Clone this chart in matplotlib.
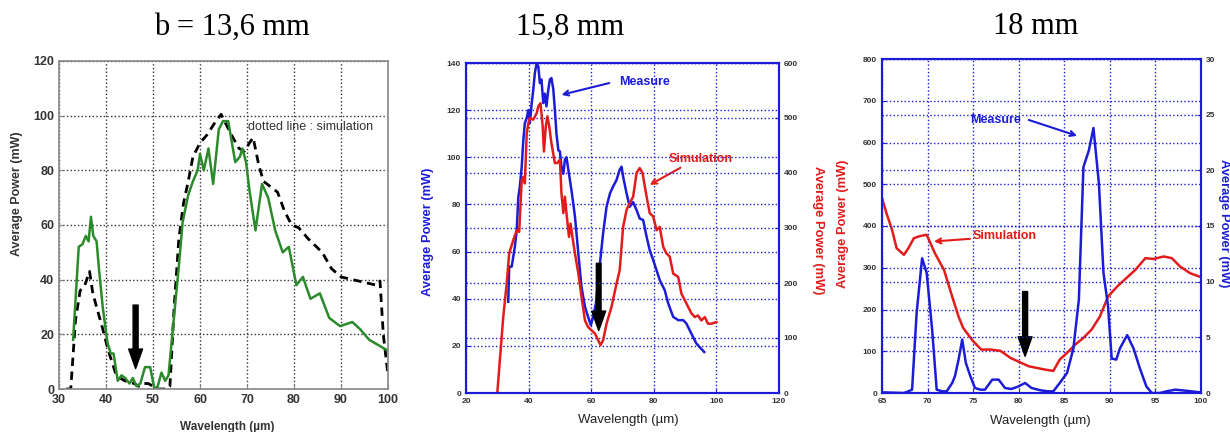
import matplotlib
matplotlib.use("Agg")
import matplotlib.pyplot as plt

plt.rcParams['font.family'] = ['Liberation Sans', 'DejaVu Sans']

# ---- panel 1 : b = 13,6 mm ----
p1_meas_x = [33.0, 34.2, 35.0, 35.7, 36.3, 36.8, 37.3, 38.0, 38.5, 39.3, 40.3, 41.0, 41.6,
             42.5, 43.3, 44.1, 45.0, 45.7, 46.5, 47.3, 48.3, 49.4, 50.3, 51.0, 51.8, 52.6,
             53.3, 54.5, 55.5, 56.3, 57.5, 58.5, 59.5, 60.0, 60.8, 61.8, 62.8, 64.0, 64.9,
             66.0, 67.5, 68.5, 69.0, 69.8, 70.5, 71.8, 73.2, 74.5, 76.0, 77.6, 78.9, 80.5,
             81.9, 83.5, 85.5, 87.5, 89.8, 92.4, 94.0, 96.0, 98.0, 100.0]
p1_meas_y = [18, 52, 53, 56, 54, 63, 56, 54, 44, 30, 17, 13, 13,
             3, 5, 4, 2, 4, 1, 2, 8, 8, 0, 1, 6, 3,
             5, 27, 45, 61, 71, 76, 80, 86, 80, 88, 75, 95, 98,
             98, 83, 85, 88, 83, 73, 58, 75, 70, 58, 50, 52, 38,
             41, 33, 35, 26, 23, 24.5, 22, 18, 16, 14]
p1_sim_x = [31.5, 32.5, 33.5, 34.5, 35.5, 36.5, 37.2, 38.0, 39.3, 40.5, 42.0, 43.0, 44.0,
            46.0, 47.0, 48.0, 49.0, 50.0, 51.0, 52.0, 53.0, 53.6, 54.5, 55.5, 56.5, 57.5,
            58.5, 60.0, 61.5, 63.0, 64.5, 65.5, 67.0, 68.3, 69.5, 70.5, 71.3, 72.5, 73.5,
            75.0, 76.5, 78.0, 79.5, 81.0, 83.0, 86.0, 88.0, 90.0, 92.5, 95.0, 97.5, 98.3,
            99.0, 100.0]
p1_sim_y = [0, 0, 25, 36, 38, 43, 35, 30, 22, 14, 6, 4, 3,
            2, 1, 2, 2, 1, 0, 0, 0, 1, 30, 55, 68, 76,
            85, 90, 93, 97, 100.5, 97, 92, 88, 87, 90, 92, 82, 76,
            74, 72, 65, 60, 59, 55, 50, 44, 41, 40, 39, 38, 39.5,
            20, 5]

# ---- panel 2 : 15,8 mm ----
p2_meas_x = [33.5, 33.8, 34.6, 35.1, 35.6, 36.2, 36.7, 37.2, 37.8, 38.3, 38.8, 39.4, 39.9,
             40.4, 41.0, 41.5, 42.0, 42.6, 43.1, 43.6, 44.1, 44.7, 45.2, 45.7, 46.3, 46.8,
             47.3, 47.9, 48.4, 48.9, 49.5, 50.0, 50.5, 51.1, 51.6, 52.1, 52.7, 53.7, 54.8,
             55.9, 56.9, 58.0, 59.0, 59.9, 60.6, 61.5, 62.2, 62.8, 63.8, 64.9, 66.0, 67.0,
             68.1, 69.1, 69.7, 70.2, 71.3, 72.3, 73.4, 74.5, 75.5, 76.6, 77.7, 78.7, 79.8,
             80.9, 81.9, 83.5, 84.6, 86.2, 87.8, 89.4, 90.4, 92.0, 93.6, 96.1]
p2_meas_y = [38.7, 53.6, 53.6, 57.8, 62, 69, 83, 87.6, 96, 107, 114.5, 116.6, 120,
             114.5, 123, 128.7, 135.8, 140, 138.6, 131.5, 133, 123, 127, 121.6, 128.7, 133,
             133.6, 128.7, 120, 110, 103, 102.5, 96, 93, 99, 100, 94.7, 86, 75,
             59, 45, 36.6, 32.3, 28.8, 32.3, 38, 47.9, 55, 67.7, 79, 84.7, 87.6,
             90.4, 94.7, 96, 91.8, 84.7, 79, 81, 77.6, 74, 73.4, 66.3, 60.6, 56.4,
             52, 47.9, 43.6, 38, 32.3, 30.9, 30.9, 29.5, 25.2, 21, 17.4]
p2_sim_x = [30.0, 30.9, 31.9, 33.0, 33.8, 35.1, 36.2, 37.0, 37.8, 38.3, 38.8, 39.4, 39.9,
            40.4, 41.5, 42.6, 43.1, 43.8, 44.5, 44.9, 45.5, 46.0, 46.6, 47.3, 48.4, 49.1,
            50.0, 50.5, 51.1, 51.6, 52.1, 52.9, 53.4, 54.0, 54.8, 55.9, 56.9, 58.0, 59.0,
            60.1, 61.2, 62.2, 63.0, 63.8, 64.9, 66.5, 68.1, 69.1, 70.2, 71.3, 72.3, 73.4,
            74.5, 75.5, 76.4, 77.7, 78.7, 79.8, 80.9, 81.9, 83.0, 84.0, 85.1, 86.2, 87.8,
            88.8, 90.4, 92.0, 93.1, 94.1, 95.2, 96.3, 97.3, 98.4, 100.0]
p2_sim_y = [0, 66, 138, 199, 254, 278, 296, 293, 387, 393, 381, 472, 490,
            500, 497, 509, 521, 527, 485, 439, 485, 503, 485, 454, 418, 418,
            424, 363, 327, 357, 327, 284, 308, 284, 254, 217, 175, 132, 120,
            114, 108, 96, 87, 96, 126, 157, 199, 223, 302, 333, 345, 357,
            400, 409, 400, 357, 327, 321, 296, 302, 266, 254, 248, 217, 211,
            181, 163, 145, 138, 141, 132, 138, 126, 126, 129]

# ---- panel 3 : 18 mm ----
p3_sim_x = [65.0, 65.5, 66.1, 66.6, 67.4, 67.9, 68.5, 69.2, 69.9, 70.8, 71.8, 72.7, 73.4,
            73.9, 75.0, 75.9, 76.9, 78.0, 79.1, 80.2, 81.1, 82.0, 82.9, 83.8, 84.5, 85.3,
            86.2, 87.1, 88.0, 88.9, 89.8, 90.8, 91.7, 92.8, 93.9, 94.8, 95.9, 96.8, 97.7,
            98.8, 99.8]
p3_sim_y = [467, 430, 391, 347, 331, 347, 371, 376, 379, 335, 295, 231, 183,
            156, 124, 104, 104, 101, 84, 73, 64, 60, 56, 53, 80, 96,
            116, 132, 152, 183, 231, 255, 273, 295, 323, 321, 327, 323, 303,
            287, 279]
p3_meas_x = [65.0, 67.4, 67.9, 68.3, 68.8, 69.4, 69.9, 70.5, 71.0, 71.6, 72.1, 72.7, 73.0,
             73.4, 73.8, 74.2, 74.7, 75.2, 75.8, 76.3, 77.1, 77.8, 78.5, 79.2, 80.0, 80.7,
             81.4, 82.4, 83.2, 83.8, 84.5, 85.3, 86.0, 86.6, 87.1, 87.7, 88.2, 88.8, 89.3,
             89.8, 90.2, 90.7, 91.1, 91.9, 92.6, 93.3, 94.0, 94.6, 95.5, 96.2, 97.2, 98.4,
             99.9]
p3_meas_y = [0.06, 0, 0.15, 0.3, 7.2, 12.1, 10.8, 5.7, 0.3, 0.15, 0.15, 0.9, 1.5,
             3.0, 4.8, 2.7, 1.5, 0.45, 0.3, 0.3, 1.2, 1.2, 0.45, 0.36, 0.6, 0.9,
             0.45, 0.24, 0.15, 0.15, 0.9, 1.8, 4.0, 8.4, 20.3, 21.8, 23.8, 18.8, 10.8,
             7.8, 3.1, 3.0, 4.0, 5.2, 4.0, 2.2, 0.6, 0, 0, 0.15, 0.3, 0.2,
             0.06]

titles = ["b = 13,6 mm", "15,8 mm", "18 mm"]
ylabel = "Average Power (mW)"
xlabel = "Wavelength (\u00b5m)"

BLUE = '#1c1cd6'
RED = '#e21b1b'
GREEN = '#2b8a2b'
W, H = 1230.0, 432.0


def fx(px):
    return px / W


def fy(py):
    return 1 - py / H


def black_arrow(ax, x, y0, y1, width=3.6, headwidth=10, headlength=14):
    ax.annotate("", xy=(x, y1), xytext=(x, y0),
                arrowprops=dict(width=width, headwidth=headwidth,
                                headlength=headlength, color='black', shrink=0))


def blue_frame(ax):
    for s in ax.spines.values():
        s.set_color(BLUE)
        s.set_linewidth(1.5)
    ax.tick_params(direction='in', length=3, color=BLUE, labelsize=6,
                   labelcolor='#333333')
    for lab in ax.get_xticklabels() + ax.get_yticklabels():
        lab.set_fontweight('bold')


fig = plt.figure(figsize=(12.3, 4.32), dpi=100)

# titles
fig.text(fx(232), fy(27), titles[0], family='Liberation Serif', fontsize=22,
         ha='center', va='center')
fig.text(fx(570), fy(27), titles[1], family='Liberation Serif', fontsize=22,
         ha='center', va='center')
fig.text(fx(1036), fy(27), titles[2], family='Liberation Serif', fontsize=22,
         ha='center', va='center')

# ---------- panel 1 ----------
ax1 = fig.add_axes([fx(59), fy(389), fx(388 - 59), (389 - 61) / H])
ax1.plot(p1_sim_x, p1_sim_y, color='black', lw=2, dashes=(3, 2))
ax1.plot(p1_meas_x, p1_meas_y, color=GREEN, lw=1.8)
ax1.set_xlim(30, 100)
ax1.set_ylim(0, 120)
ax1.set_xticks(range(30, 101, 10))
ax1.set_yticks(range(0, 121, 20))
ax1.grid(True, ls=':', color='#333333', lw=1)
for s in ax1.spines.values():
    s.set_color('#888888')
    s.set_linewidth(1.2)
ax1.tick_params(direction='in', length=3, color='#888888', labelsize=9,
                labelcolor='#333333')
for lab in ax1.get_xticklabels() + ax1.get_yticklabels():
    lab.set_fontweight('bold')
ax1.text(70.3, 95.8, "dotted line : simulation", fontsize=9, color='#333333',
         va='center', ha='left')
black_arrow(ax1, 46.3, 30.7, 7.5, width=3.6, headwidth=10, headlength=14)
fig.text(fx(17), fy(40 + 460 / 3), ylabel, rotation=90, fontsize=9,
         fontweight='bold', color='#333333', ha='center', va='center')
fig.text(fx(227), fy(427), xlabel, fontsize=8.5, fontweight='bold',
         color='#333333', ha='center', va='center')

# ---------- panel 2 ----------
ax2 = fig.add_axes([fx(466), fy(393), fx(779 - 466), (393 - 63) / H])
ax2r = ax2.twinx()
ax2.plot(p2_meas_x, p2_meas_y, color=BLUE, lw=1.8, zorder=3)
ax2r.plot(p2_sim_x, p2_sim_y, color=RED, lw=1.8)
ax2.set_xlim(20, 120)
ax2.set_ylim(0, 140)
ax2r.set_ylim(0, 600)
ax2.set_xticks(range(20, 121, 20))
ax2.set_yticks(range(0, 141, 20))
ax2r.set_yticks(range(0, 601, 100))
ax2.grid(True, ls=':', color=BLUE, lw=1)
ax2r.grid(True, axis='y', ls=':', color=BLUE, lw=1)
blue_frame(ax2)
blue_frame(ax2r)
ax2.annotate("Measure", xy=(50.5, 126.5), xytext=(69, 132), fontsize=9,
             fontweight='bold', color=BLUE, va='center', ha='left',
             arrowprops=dict(arrowstyle='->', color=BLUE, lw=1.5,
                             shrinkA=0, shrinkB=0, relpos=(-0.2, 0.4)))
ax2.annotate("Simulation", xy=(78.7, 88.3), xytext=(84.6, 99.3), fontsize=9,
             fontweight='bold', color=RED, va='center', ha='left',
             arrowprops=dict(arrowstyle='->', color=RED, lw=1.5,
                             shrinkA=0, shrinkB=0, relpos=(0.27, 0.0)))
black_arrow(ax2, 62.4, 55, 26.5, width=3.4, headwidth=10, headlength=14)
fig.text(fx(428), fy(40 + 575 / 3), ylabel, rotation=90, fontsize=9.3,
         fontweight='bold', color=BLUE, ha='center', va='center')
fig.text(fx(818), fy(230), ylabel, rotation=270, fontsize=9.3,
         fontweight='bold', color=RED, ha='center', va='center')
fig.text(fx(628), fy(420), xlabel, fontsize=9.5, color='#222222',
         ha='center', va='center')

# ---------- panel 3 ----------
ax3 = fig.add_axes([fx(882), fy(393), fx(1201 - 882), (393 - 59) / H])
ax3r = ax3.twinx()
ax3.plot(p3_sim_x, p3_sim_y, color=RED, lw=1.8)
ax3r.plot(p3_meas_x, p3_meas_y, color=BLUE, lw=1.8)
ax3.set_xlim(65, 100)
ax3.set_ylim(0, 800)
ax3r.set_ylim(0, 30)
ax3.set_xticks(range(65, 101, 5))
ax3.set_yticks(range(0, 801, 100))
ax3r.set_yticks(range(0, 31, 5))
ax3.grid(True, ls=':', color=BLUE, lw=1)
ax3r.grid(True, axis='y', ls=':', color=BLUE, lw=1)
blue_frame(ax3)
blue_frame(ax3r)
ax3.annotate("Measure", xy=(86.4, 616), xytext=(74.7, 654), fontsize=9,
             fontweight='bold', color=BLUE, va='center', ha='left',
             arrowprops=dict(arrowstyle='->', color=BLUE, lw=1.5,
                             shrinkA=0, shrinkB=0, relpos=(1.15, 0.5)))
ax3.annotate("Simulation", xy=(70.7, 363), xytext=(75.0, 375), fontsize=9,
             fontweight='bold', color=RED, va='center', ha='left',
             arrowprops=dict(arrowstyle='->', color=RED, lw=1.5,
                             shrinkA=0, shrinkB=0, relpos=(-0.05, 0.3)))
black_arrow(ax3, 80.7, 243, 88, width=3.6, headwidth=10, headlength=14)
fig.text(fx(843), fy(40 + 550 / 3), ylabel, rotation=90, fontsize=9.3,
         fontweight='bold', color=RED, ha='center', va='center')
fig.text(fx(1224), fy(40 + 550 / 3), ylabel, rotation=270, fontsize=9.3,
         fontweight='bold', color=BLUE, ha='center', va='center')
fig.text(fx(1040), fy(421), xlabel, fontsize=9.5, color='#222222',
         ha='center', va='center')

fig.savefig("out.png", dpi=100)
